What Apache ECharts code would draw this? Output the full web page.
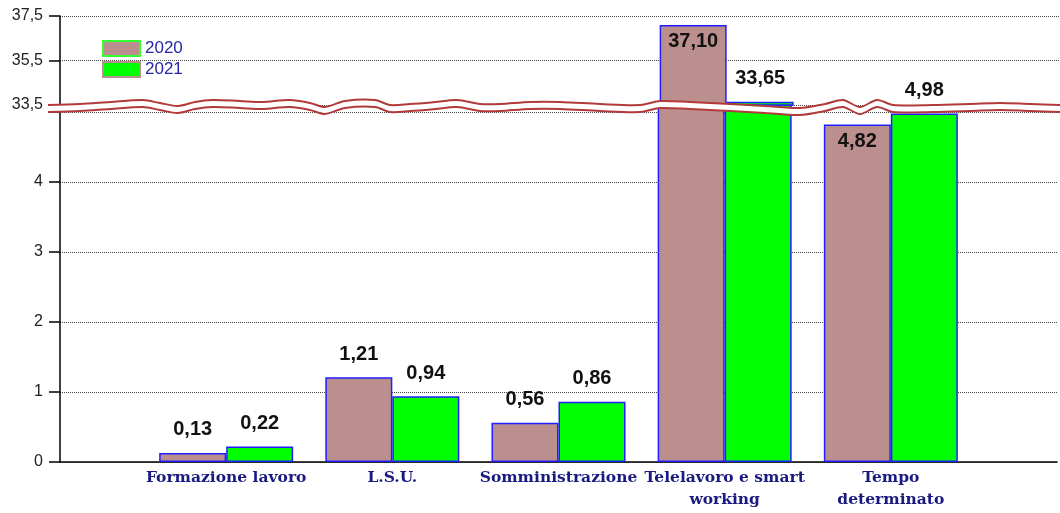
<!DOCTYPE html>
<html>
<head>
<meta charset="utf-8">
<script src="https://cdn.jsdelivr.net/npm/echarts@6/dist/echarts.min.js"></script>
<style>
  html, body { margin: 0; padding: 0; background: #fff; }
  #main { width: 1060px; height: 513px; }
</style>
</head>
<body>
<div id="main"></div>
<script>
// data
var categories = ['Formazione lavoro', 'L.S.U.', 'Somministrazione', 'Telelavoro e smart\nworking', 'Tempo\ndeterminato'];
var values2020 = [0.13, 1.21, 0.56, 37.10, 4.82];
var values2021 = [0.22, 0.94, 0.86, 33.65, 4.98];

// broken y axis: lower part 0..5.1, upper part 33.5..37.5
var lowerTicks = [0, 1, 2, 3, 4];
var lowerTickMarks = [0, 1, 2, 3, 4, 5];
var upperTicks = [33.5, 35.5, 37.5];
var lowerMax = 5.1;
var upperMin = 33.5, upperMax = 37.5;

// 2020 labels that sit inside the bar top
var inside2020 = [3, 4];

var myChart = echarts.init(document.getElementById('main'));

function fmt(v) {
    return v.toFixed(2).replace('.', ',');
}

// the category axis runs one step past each end, like the original
var axisCats = [''].concat(categories).concat(['']);

var labelFont = {
    color: '#111',
    fontFamily: 'Arial, "Liberation Sans"',
    fontWeight: 'bold',
    fontSize: 20
};

function barData(values, part, insideIdx) {
    var out = values.map(function (v, i) {
        var show = part == 'lower' ? v <= lowerMax : v >= upperMin;
        var inside = insideIdx.indexOf(i) >= 0;
        return {
            value: v,
            label: {
                show: show,
                position: inside ? 'insideTop' : 'top',
                distance: inside ? 7 : 13
            }
        };
    });
    return ['-'].concat(out).concat(['-']);
}

function barSeries(name, values, part, color, insideIdx) {
    var idx = part == 'lower' ? 0 : 1;
    return {
        name: name,
        type: 'bar',
        xAxisIndex: idx,
        yAxisIndex: idx,
        data: barData(values, part, insideIdx),
        barWidth: 67,
        barGap: '0%',
        clip: true,
        itemStyle: {
            color: color,
            borderColor: '#1f1fff',
            borderWidth: 1.5
        },
        label: Object.assign({ formatter: function (p) { return fmt(p.value); } }, labelFont)
    };
}

// wavy "break" band
var waveTop = [
    [48, 105], [80, 104], [110, 102], [143, 100], [160, 103], [178, 106], [195, 102], [212, 100],
    [240, 101], [262, 102], [290, 100], [310, 103], [325, 107], [345, 101], [375, 100], [390, 105],
    [410, 104], [435, 102], [457, 100], [480, 104], [500, 104], [530, 102], [560, 102], [600, 104],
    [640, 105], [660, 101], [690, 102], [730, 104], [765, 106], [800, 108], [825, 104], [843, 100],
    [860, 107], [877, 100], [893, 105], [933, 105], [970, 104], [1000, 103], [1030, 104], [1062, 105]
];
var waveBottom = waveTop.map(function (p) { return [p[0], p[1] + 7]; });

var gridLine = { show: true, lineStyle: { color: '#444', type: [1, 1], width: 1 } };
var yLabelStyle = {
    color: '#222',
    fontFamily: 'Arial, "Liberation Sans"',
    fontSize: 16,
    margin: 17
};

var option = {
    animation: false,
    legend: {
        orient: 'vertical',
        left: 97,
        top: 35,
        itemWidth: 37,
        itemHeight: 15,
        itemGap: 4,
        icon: 'rect',
        textStyle: { color: '#2626a6', fontFamily: 'Arial, "Liberation Sans"', fontSize: 17 },
        data: [
            { name: '2020', itemStyle: { color: '#bc8f8f', borderColor: '#33ff33', borderWidth: 2 } },
            { name: '2021', itemStyle: { color: '#00ff00', borderColor: '#bc8f8f', borderWidth: 2 } }
        ]
    },
    grid: [
        { left: 60, width: 1003, top: 105, height: 357 },
        { left: 60, width: 1003, top: 16, height: 89 }
    ],
    xAxis: [
        {
            gridIndex: 0,
            type: 'category',
            data: axisCats,
            boundaryGap: false,
            axisLine: { lineStyle: { color: '#000', width: 1.5 } },
            axisTick: { show: false },
            axisLabel: {
                interval: 0,
                margin: 5,
                color: '#1a1a80',
                fontFamily: '"DejaVu Serif", serif',
                fontWeight: 'bold',
                fontSize: 15.5,
                lineHeight: 22
            },
            splitLine: { show: false }
        },
        {
            gridIndex: 1,
            type: 'category',
            data: axisCats,
            boundaryGap: false,
            show: false
        }
    ],
    yAxis: [
        {
            gridIndex: 0,
            type: 'value',
            min: 0,
            max: lowerMax,
            axisLine: { show: true, lineStyle: { color: '#000', width: 1.5 } },
            axisTick: { show: true, length: 11, customValues: lowerTickMarks, lineStyle: { color: '#000', width: 1.5 } },
            axisLabel: Object.assign({ customValues: lowerTicks, formatter: function (v) { return String(v); } }, yLabelStyle),
            splitLine: gridLine
        },
        {
            gridIndex: 1,
            type: 'value',
            min: upperMin,
            max: upperMax,
            axisLine: { show: true, lineStyle: { color: '#000', width: 1.5 } },
            axisTick: { show: true, length: 11, customValues: upperTicks, lineStyle: { color: '#000', width: 1.5 } },
            axisLabel: Object.assign({ customValues: upperTicks, formatter: function (v) { return v.toFixed(1).replace('.', ','); } }, yLabelStyle),
            splitLine: gridLine
        }
    ],
    series: [
        barSeries('2020', values2020, 'lower', '#bc8f8f', inside2020),
        barSeries('2021', values2021, 'lower', '#00ff00', []),
        barSeries('2020', values2020, 'upper', '#bc8f8f', inside2020),
        barSeries('2021', values2021, 'upper', '#00ff00', [])
    ],
    graphic: [
        {
            type: 'polygon',
            z: 50,
            shape: { points: waveTop.concat(waveBottom.slice().reverse()), smooth: 0 },
            style: { fill: '#fff' }
        },
        {
            type: 'polyline',
            z: 51,
            shape: { points: waveTop, smooth: 0.3 },
            style: { stroke: '#b23a3a', lineWidth: 2, fill: null }
        },
        {
            type: 'polyline',
            z: 51,
            shape: { points: waveBottom, smooth: 0.3 },
            style: { stroke: '#b23a3a', lineWidth: 2, fill: null }
        }
    ]
};

myChart.setOption(option);
</script>
</body>
</html>
